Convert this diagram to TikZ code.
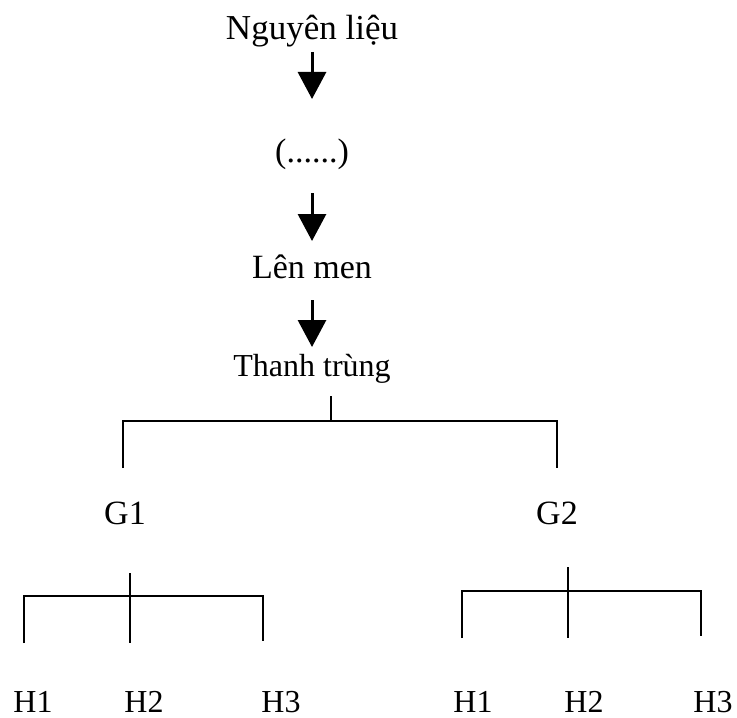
\documentclass[tikz,border=0pt]{standalone}
\usepackage{fontspec}
\setmainfont{Liberation Serif}
\usetikzlibrary{arrows.meta,calc}

\tikzset{
	txt/.style={anchor=base, inner sep=0pt, font=\fontsize{16}{19}\selectfont},
	bigtxt/.style={txt, font=\fontsize{17}{20}\selectfont},
	flow/.style={line width=1.5pt, -{Triangle[length=13.5pt,width=14pt]}},
	branch/.style={line width=1pt},
	twig/.style={line width=0.65pt}
}

\begin{document}
\begin{tikzpicture}[x=0.5pt,y=0.5pt,yscale=-1,xscale=1]
		% Set diagram size: 737 wide, 717 high
		\useasboundingbox (0,0) rectangle (737,717);

		% The process steps down the middle
		\node[bigtxt, font=\fontsize{17.5}{20}\selectfont] (nl) at (312,40) {Nguyên liệu};
		\node[bigtxt] (dots) at (312,162) {(......)};
		\node[bigtxt] (lm) at (312,278) {Lên men};
		\node[txt] (tt) at (312,376) {Thanh trùng};

		% Arrows between the steps
		\draw[flow] ($(nl.base)+(0,12)$) -- ($(dots.base)+(0,-63)$);
		\draw[flow] ($(dots.base)+(0,31)$) -- ($(lm.base)+(0,-37)$);
		\draw[flow] ($(lm.base)+(0,22)$) -- ($(tt.base)+(0,-29)$);

		% The two groups
		\node[bigtxt] (g1) at (125,524) {G1};
		\node[bigtxt] (g2) at (557,524) {G2};

		% Bracket below "Thanh trùng" splitting into G1 and G2
		\coordinate (split) at (331,421);
		\coordinate (g1top) at (123,468);
		\coordinate (g2top) at (557,468);
		\draw[branch] ($(tt.base)+(19,20)$) -- (split);
		\draw[branch] (g1top) |- (split) -| (g2top);

		% The H labels below G1
		\node[txt] (h11) at (33,712) {H1};
		\node[txt] (h12) at (144,712) {H2};
		\node[txt] (h13) at (281,712) {H3};

		% The H labels below G2
		\node[txt] (h21) at (473,712) {H1};
		\node[txt] (h22) at (584,712) {H2};
		\node[txt] (h23) at (713,712) {H3};

		% Bracket under G1
		\coordinate (a1) at (24,643);
		\coordinate (a2) at (130,643);
		\coordinate (a3) at (263,641);
		\draw[twig] (a1) |- (a3 |- 0,596) -- (a3);
		\draw[twig] (130,573) -- (a2);

		% Bracket under G2
		\coordinate (b1) at (462,638);
		\coordinate (b2) at (568,638);
		\coordinate (b3) at (701,636);
		\draw[twig] (b1) |- (b3 |- 0,591) -- (b3);
		\draw[twig] (568,567) -- (b2);
	\end{tikzpicture}
\end{document}
